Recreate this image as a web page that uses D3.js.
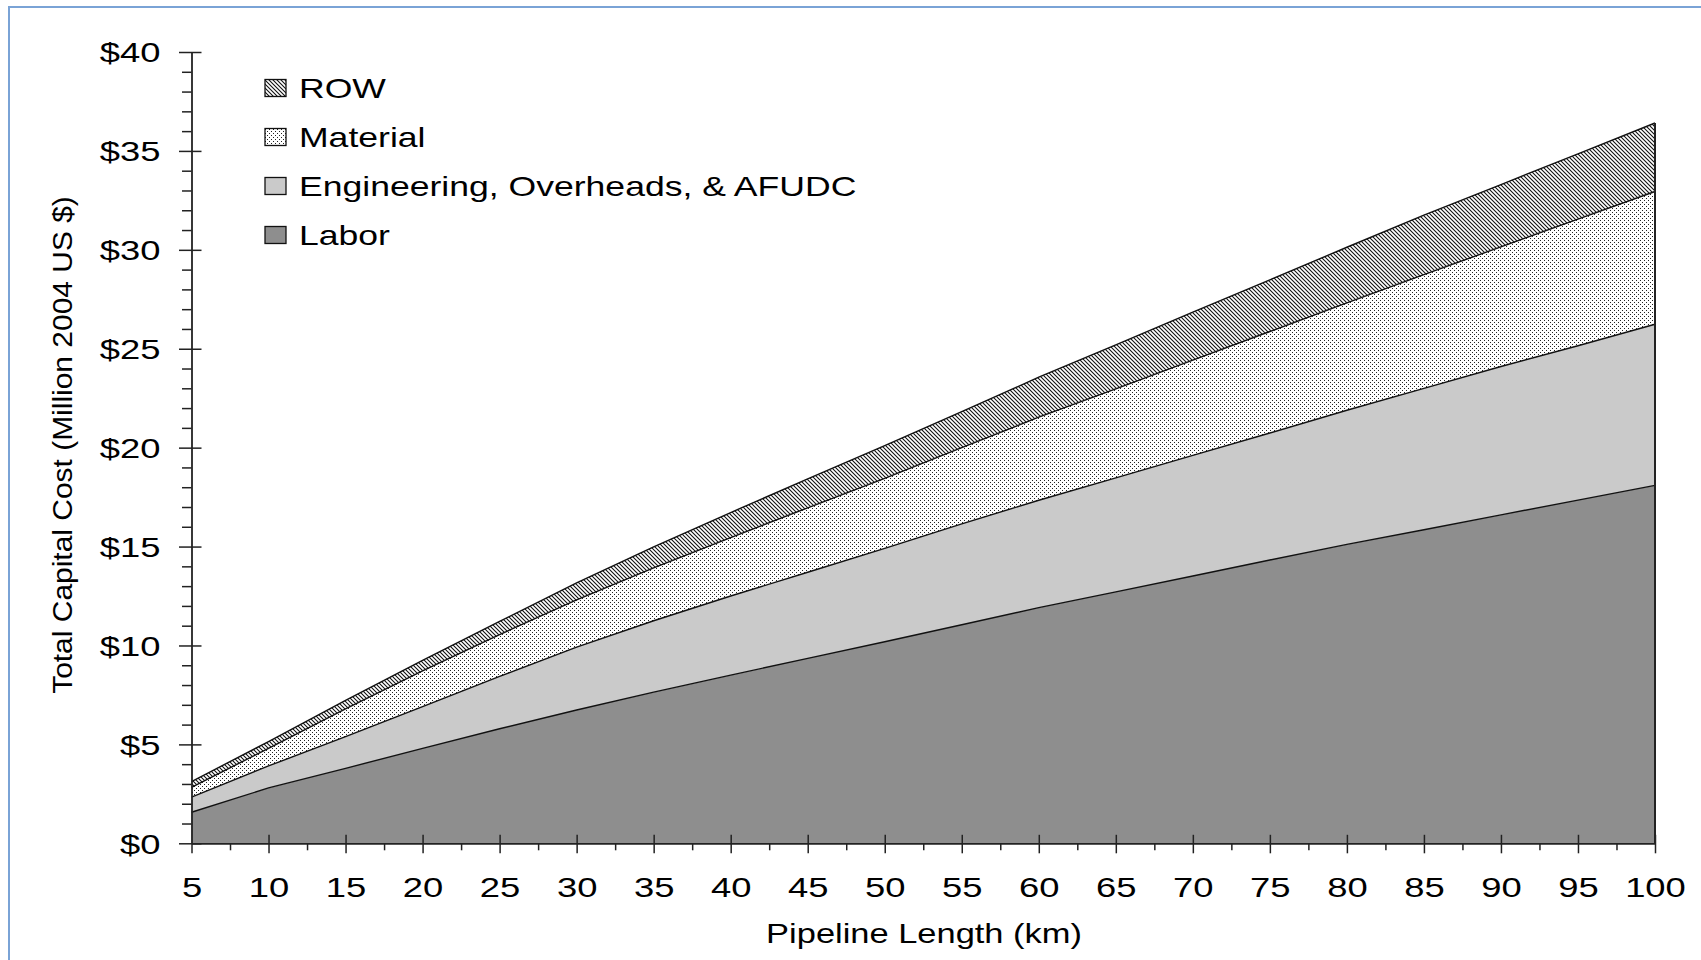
<!DOCTYPE html>
<html>
<head>
<meta charset="utf-8">
<script src="https://cdn.jsdelivr.net/npm/d3@7"></script>
<style>
  html, body { margin: 0; padding: 0; background: #ffffff; }
  svg { display: block; font-family: "Liberation Sans", Arial, sans-serif; }
</style>
</head>
<body>
<svg id="chart" width="1701" height="960"></svg>
<script>
// ---- data ----
const lengths = [5, 10, 15, 20, 25, 30, 35, 40, 45, 50, 55, 60, 65, 70, 75, 80, 85, 90, 95, 100];
const labor       = [1.57, 2.80, 3.79, 4.80, 5.79, 6.74, 7.64, 8.50, 9.35, 10.19, 11.05, 11.91, 12.71, 13.51, 14.32, 15.11, 15.85, 16.60, 17.35, 18.09];
const engineering = [0.76, 1.11, 1.60, 2.11, 2.65, 3.18, 3.61, 4.00, 4.35, 4.72, 5.10, 5.43, 5.76, 6.10, 6.42, 6.78, 7.15, 7.50, 7.80, 8.15];
const material    = [0.50, 0.89, 1.41, 1.81, 2.11, 2.38, 2.67, 2.95, 3.26, 3.54, 3.85, 4.20, 4.50, 4.81, 5.13, 5.43, 5.75, 6.05, 6.40, 6.71];
const rightOfWay  = [0.29, 0.34, 0.42, 0.53, 0.67, 0.86, 1.06, 1.27, 1.46, 1.65, 1.82, 2.02, 2.22, 2.43, 2.61, 2.81, 3.00, 3.15, 3.30, 3.46];
const yTickValues = [0, 5, 10, 15, 20, 25, 30, 35, 40];
const yTickLabels = ["$0", "$5", "$10", "$15", "$20", "$25", "$30", "$35", "$40"];
const seriesKeys   = ["labor", "engineering", "material", "row"];
const legendKeys   = ["row", "material", "engineering", "labor"];
const legendLabels = ["ROW", "Material", "Engineering, Overheads, & AFUDC", "Labor"];
const xTitle = "Pipeline Length (km)";
const yTitle = "Total Capital Cost (Million 2004 US $)";

// ---- build table ----
const table = lengths.map((len, i) => ({
  length: len, labor: labor[i], engineering: engineering[i], material: material[i], row: rightOfWay[i]
}));

const svg = d3.select("#chart");
const defs = svg.append("defs");

// hatch pattern for ROW
const hatch = defs.append("pattern").attr("id", "hatch")
  .attr("patternUnits", "userSpaceOnUse").attr("width", 4).attr("height", 4);
hatch.append("rect").attr("width", 4).attr("height", 4).attr("fill", "#fff");
hatch.append("path").attr("d", "M0,0 L4,4 M-1,3 L1,5 M3,-1 L5,1")
  .attr("stroke", "#111").attr("stroke-width", 1.1);

// dot pattern for Material
const dots = defs.append("pattern").attr("id", "dots")
  .attr("patternUnits", "userSpaceOnUse").attr("width", 4).attr("height", 4);
dots.append("rect").attr("width", 4).attr("height", 4).attr("fill", "#fff");
dots.append("rect").attr("x", 0).attr("y", 0).attr("width", 1).attr("height", 1).attr("fill", "#222");
dots.append("rect").attr("x", 2).attr("y", 2).attr("width", 1).attr("height", 1).attr("fill", "#222");

const fills = { labor: "#8e8e8e", engineering: "#cacaca", material: "url(#dots)", row: "url(#hatch)" };

// blue frame
svg.append("rect").attr("x", 9).attr("y", 7).attr("width", 1800).attr("height", 1100)
  .attr("fill", "none").attr("stroke", "#7aa3d6").attr("stroke-width", 2);

const x = d3.scaleLinear().domain([5, 100]).range([191.5, 1655]);
const y = d3.scaleLinear().domain([0, 40]).range([843.3, 52]);

const stack = d3.stack().keys(seriesKeys);
const layers = stack(table);

const area = d3.area()
  .x(d => x(d.data.length))
  .y0(d => y(d[0]))
  .y1(d => y(d[1]));
const topLine = d3.line()
  .x(d => x(d.data.length))
  .y(d => y(d[1]));

const g = svg.append("g");
g.selectAll("path.area").data(layers).join("path")
  .attr("class", "area")
  .attr("d", area)
  .attr("fill", d => fills[d.key]);
g.selectAll("path.top").data(layers).join("path")
  .attr("class", "top")
  .attr("d", topLine)
  .attr("fill", "none")
  .attr("stroke", "#111")
  .attr("stroke-width", 1.4);

// right edge line at x = 100
const lastTop = layers[layers.length - 1][lengths.length - 1][1];
g.append("line")
  .attr("x1", x(100)).attr("x2", x(100))
  .attr("y1", y(0)).attr("y2", y(lastTop))
  .attr("stroke", "#222").attr("stroke-width", 2);

// ---- axes ----
const sx = 1.3;
// y minor ticks
svg.append("g").attr("transform", `translate(${x(5)},0)`)
  .call(d3.axisLeft(y).tickValues(d3.range(0, 41).filter(v => v % 5 !== 0))
    .tickSize(9.5).tickSizeOuter(0).tickFormat(""))
  .call(s => s.select(".domain").remove())
  .call(s => s.selectAll(".tick line").attr("stroke", "#222").attr("stroke-width", 1.5));
// y major
const yAxisG = svg.append("g").attr("transform", `translate(${x(5)},0)`)
  .call(d3.axisLeft(y).tickValues(yTickValues).tickSizeOuter(0)
    .tickFormat((d, i) => yTickLabels[i]));
yAxisG.select(".domain").attr("stroke", "#222").attr("stroke-width", 1.8);
yAxisG.selectAll(".tick line").attr("x1", 10).attr("x2", -12.5).attr("stroke", "#222").attr("stroke-width", 1.5);
yAxisG.selectAll(".tick text")
  .attr("x", -31 / sx).attr("dy", "0.35em")
  .attr("transform", `scale(${sx},1)`)
  .attr("font-size", 28).attr("fill", "#000")
  .attr("font-family", "Liberation Sans, Arial, sans-serif");

// x minor ticks
svg.append("g").attr("transform", `translate(0,${y(0)})`)
  .call(d3.axisBottom(x).tickValues(d3.range(7.5, 100, 5)).tickSize(7).tickSizeOuter(0).tickFormat(""))
  .call(s => s.select(".domain").remove())
  .call(s => s.selectAll(".tick line").attr("stroke", "#222").attr("stroke-width", 1.5));
// x major
const xAxisG = svg.append("g").attr("transform", `translate(0,${y(0)})`)
  .call(d3.axisBottom(x).tickValues(lengths).tickSizeOuter(0).tickFormat(d3.format("d")));
xAxisG.select(".domain").attr("stroke", "#222").attr("stroke-width", 1.8);
xAxisG.selectAll(".tick line").attr("y1", d => (d === 5 ? 0 : -8.5)).attr("y2", 10)
  .attr("stroke", "#222").attr("stroke-width", 1.5);
xAxisG.selectAll(".tick text")
  .attr("y", 54).attr("dy", 0)
  .attr("transform", `scale(${sx},1)`)
  .attr("font-size", 28).attr("fill", "#000")
  .attr("font-family", "Liberation Sans, Arial, sans-serif");

// axis titles
svg.append("text")
  .attr("transform", `translate(924,943) scale(1.23,1)`)
  .attr("text-anchor", "middle")
  .attr("font-size", 28).attr("fill", "#000")
  .text(xTitle);
svg.append("text")
  .attr("transform", `translate(62,445) rotate(-90) scale(1.07,1)`)
  .attr("text-anchor", "middle").attr("dy", "0.35em")
  .attr("font-size", 28).attr("fill", "#000")
  .text(yTitle);

// ---- legend ----
const legendRowY = d3.scalePoint().domain(legendKeys).range([88, 235]);
const lg = svg.append("g");
const items = lg.selectAll("g").data(legendKeys).join("g")
  .attr("transform", d => `translate(265,${legendRowY(d)})`);
items.append("rect")
  .attr("x", 0).attr("y", -8.5).attr("width", 21).attr("height", 17)
  .attr("fill", d => fills[d]).attr("stroke", "#111").attr("stroke-width", 1.3);
items.append("text")
  .attr("transform", `translate(34,10) scale(1.27,1)`)
  .attr("font-size", 28).attr("fill", "#000")
  .text((d, i) => legendLabels[i]);
</script>
</body>
</html>
